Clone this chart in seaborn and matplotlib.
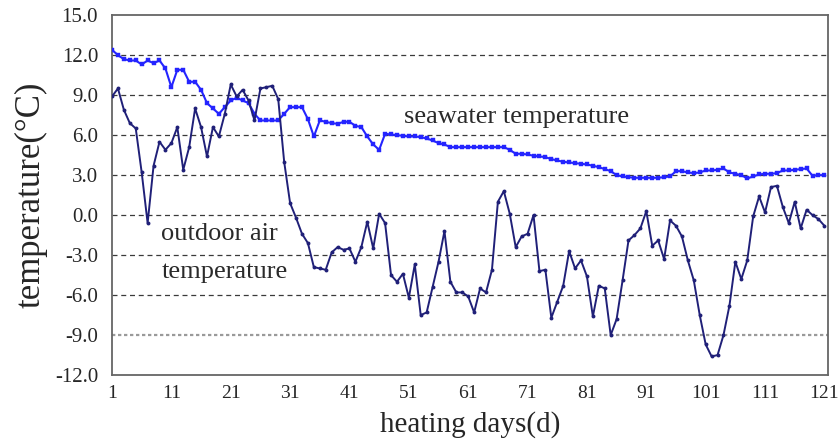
import numpy as np
import pandas as pd
import seaborn as sns
import matplotlib
matplotlib.use("Agg")
import matplotlib.pyplot as plt

# heating days 1..121
days = list(range(1, 122))

outdoor_air = [
    8.9, 9.5, 7.9, 6.9, 6.5, 3.2, -0.6, 3.7, 5.5, 4.9,
    5.4, 6.6, 3.4, 5.1, 8.0, 6.6, 4.4, 6.6, 5.9, 7.6,
    9.8, 8.9, 9.4, 8.6, 7.1, 9.5, 9.6, 9.7, 8.7, 4.0,
    0.9, -0.2, -1.4, -2.1, -3.9, -4.0, -4.1, -2.8, -2.4, -2.6,
    -2.5, -3.5, -2.4, -0.5, -2.5, 0.1, -0.6, -4.5, -5.0, -4.4,
    -6.2, -3.7, -7.5, -7.3, -5.4, -3.5, -1.2, -5.0, -5.8, -5.8,
    -6.1, -7.3, -5.5, -5.8, -4.1, 1.0, 1.8, 0.1, -2.4, -1.6,
    -1.4, 0.0, -4.2, -4.1, -7.7, -6.5, -5.3, -2.7, -4.0, -3.4,
    -4.6, -7.6, -5.3, -5.5, -9.0, -7.8, -4.9, -1.9, -1.5, -1.0,
    0.3, -2.3, -1.9, -3.3, -0.4, -0.8, -1.6, -3.4, -4.9, -7.5,
    -9.7, -10.6, -10.5, -9.0, -6.8, -3.5, -4.8, -3.4, -0.1, 1.4,
    0.2, 2.1, 2.2, 0.6, -0.6, 1.0, -1.0, 0.4, 0.0, -0.3,
    -0.8,
]

seawater = [
    12.4, 12.0, 11.7, 11.6, 11.6, 11.3, 11.6, 11.4, 11.6, 11.0,
    9.6, 10.9, 10.9, 10.0, 10.0, 9.4, 8.4, 8.0, 7.6, 8.1,
    8.6, 8.8, 8.6, 8.4, 7.6, 7.1, 7.1, 7.1, 7.1, 7.6,
    8.1, 8.1, 8.1, 7.2, 5.9, 7.1, 7.0, 6.9, 6.85, 7.0,
    7.0, 6.7, 6.6, 5.9, 5.3, 4.9, 6.1, 6.05, 6.0, 5.95,
    5.9, 5.9, 5.85, 5.75, 5.6, 5.4, 5.3, 5.1, 5.1, 5.1,
    5.1, 5.1, 5.1, 5.1, 5.1, 5.1, 5.1, 4.9, 4.6, 4.6,
    4.55, 4.45, 4.4, 4.35, 4.2, 4.1, 4.0, 3.95, 3.9, 3.85,
    3.8, 3.7, 3.6, 3.45, 3.3, 3.0, 2.9, 2.85, 2.8, 2.8,
    2.8, 2.8, 2.8, 2.85, 2.9, 3.3, 3.3, 3.2, 3.15, 3.2,
    3.35, 3.35, 3.4, 3.5, 3.2, 3.1, 3.0, 2.75, 2.9, 3.05,
    3.1, 3.1, 3.15, 3.35, 3.35, 3.4, 3.45, 3.5, 2.95, 3.0,
    3.0,
]

yticks = [-12, -9, -6, -3, 0, 3, 6, 9, 12, 15]
xticks = list(range(1, 122, 10))

df = pd.DataFrame({"day": days, "outdoor": outdoor_air, "seawater": seawater})

sns.set_style("white")
plt.rcParams['font.family'] = ['Liberation Serif', 'DejaVu Serif']

fig = plt.figure(figsize=(8.39, 4.46), dpi=100)
ax = fig.add_axes([0.1335, 0.159, 0.853, 0.807])

# grid lines first so the curves sit on top
for t in yticks[1:-1]:
    if t == -9:
        ax.axhline(t, color="#9a9a9a", lw=1.6, ls=(0, (1.5, 1.2)), zorder=1)
    else:
        ax.axhline(t, color="#3a3a3a", lw=0.9, ls=(0, (4, 3)), zorder=1)

sns.lineplot(data=df, x="day", y="seawater", ax=ax, color="#2424ff", lw=1.5,
             marker="s", markersize=2.6, markeredgewidth=0.3, markeredgecolor="#2424ff", zorder=3)
sns.lineplot(data=df, x="day", y="outdoor", ax=ax, color="#202078", lw=1.4,
             marker="o", markersize=2.8, markeredgewidth=0, zorder=4)

ax.set_xlim(1, 121.55)
ax.set_ylim(-12, 15)
ax.set_xticks(xticks)
ax.set_yticks(yticks)
ax.set_yticklabels([f"{t:.1f}" for t in yticks])
ax.tick_params(axis="x", direction="in", length=6, width=1, labelsize=14, pad=7, color="#555555")
ax.tick_params(axis="y", direction="in", length=0, labelsize=15, pad=10)

for s in ax.spines.values():
    s.set_color("#666666")
    s.set_linewidth(1.3)

ax.set_xlabel("heating days(d)", fontsize=21, labelpad=7)
ax.set_ylabel("temperature(\u00b0C)", fontsize=25, labelpad=5)

ax.text(50.2, 7.35, "seawater temperature", fontsize=19, color="#2a2a2a", va="center", ha="left")
ax.text(9.3, -1.4, "outdoor air", fontsize=19, color="#2a2a2a", va="center", ha="left")
ax.text(9.3, -4.3, "temperature", fontsize=19, color="#2a2a2a", va="center", ha="left")

fig.savefig("out.png", dpi=100)
